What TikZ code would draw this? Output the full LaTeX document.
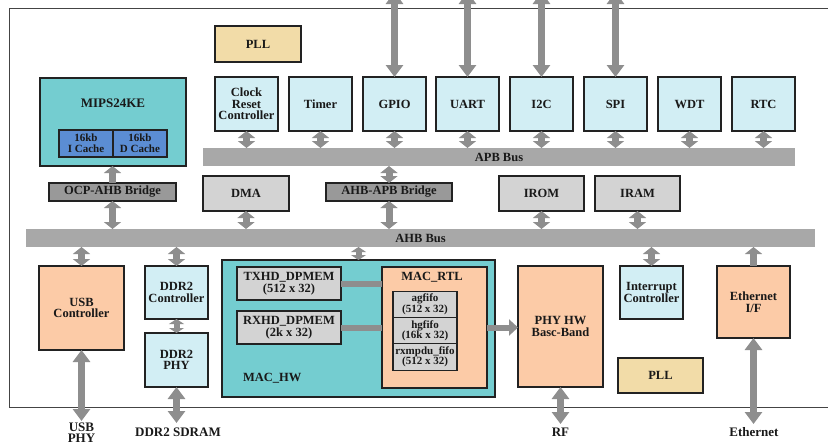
\documentclass[tikz,border=0pt]{standalone}
\usepackage{fontspec}
\setmainfont{Liberation Serif}
\usetikzlibrary{arrows.meta}
\definecolor{cteal}{HTML}{74CDD0}
\definecolor{cblue}{HTML}{5B8DD3}
\definecolor{clight}{HTML}{D2EEF4}
\definecolor{cpeach}{HTML}{FCCBA7}
\definecolor{ctan}{HTML}{F2DCA8}
\definecolor{cgray}{HTML}{D3D3D3}
\definecolor{cbridge}{HTML}{999999}
\definecolor{cbus}{HTML}{A8A8A8}
\definecolor{carrow}{HTML}{8E8E8E}
\definecolor{cborder}{HTML}{222222}
\definecolor{cframe}{HTML}{444444}
\tikzset{
  every node/.style={inner sep=0pt, outer sep=0pt, align=center},
  base/.style={font=\fontsize{12.5}{11.7}\selectfont\bfseries, text=black!90},
  box/.style={base, draw=cborder, line width=1.1pt},
  pbox/.style={box, fill=clight, line width=1.5pt, minimum width=63pt, minimum height=54pt},
  lbox/.style={box, fill=clight, minimum width=63pt, minimum height=53pt},
  tanbox/.style={box, fill=ctan},
  peachbox/.style={box, fill=cpeach},
  tealbox/.style={box, fill=cteal},
  gbox/.style={box, fill=cgray, minimum width=86pt, minimum height=35pt},
  membox/.style={box, fill=cgray, minimum width=104pt, minimum height=33pt, font=\fontsize{12.5}{12}\selectfont\bfseries},
  cachebox/.style={box, fill=cblue, minimum width=54pt, minimum height=27pt, font=\fontsize{11}{11}\selectfont\bfseries},
  fifobox/.style={box, fill=cgray, minimum width=64pt, minimum height=26.5pt, font=\fontsize{11}{10.5}\selectfont\bfseries},
  bridgebox/.style={box, fill=cbridge, minimum height=18pt},
  busbar/.style={base, fill=cbus, minimum height=18pt},
  lab/.style={font=\fontsize{13}{11.5}\selectfont\bfseries, text=black!90},
  la/.style={draw=carrow, line width=7pt, {Triangle[width=17pt,length=12pt]}-{Triangle[width=17pt,length=12pt]}},
  sda/.style={draw=carrow, line width=7pt, {Triangle[width=17pt,length=7pt]}-{Triangle[width=17pt,length=7pt]}},
  tda/.style={draw=carrow, line width=6pt, {Triangle[width=15pt,length=5pt]}-{Triangle[width=15pt,length=5pt]}},
  sua/.style={draw=carrow, line width=7pt, -{Triangle[width=17pt,length=7pt]}},
  conn/.style={draw=carrow, line width=6pt},
}
\begin{document}
\begin{tikzpicture}[x=1pt,y=-1pt]
\useasboundingbox (0,0) rectangle (828,445);
\fill[white] (0,0) rectangle (828,445);
\clip (0,0) rectangle (828,445);
% outer frame
\draw[cframe, line width=0.9pt] (830,8) -- (9,8) -- (9,407) -- (830,407);
\coordinate (top) at (0,-8);

% top row
\node[tanbox, minimum width=86pt, minimum height=36pt] (pll1) at (258,44) {PLL};
\node[pbox] (crc) at (246.5,104) {Clock\\Reset\\Controller};
\node[pbox] (timer) at (320.5,104) {Timer};
\node[pbox] (gpio) at (394.5,104) {GPIO};
\node[pbox] (uart) at (467.5,104) {UART};
\node[pbox] (i2c) at (541.5,104) {I2C};
\node[pbox] (spi) at (615.5,104) {SPI};
\node[pbox] (wdt) at (689.5,104) {WDT};
\node[pbox] (rtc) at (763.5,104) {RTC};
\node[busbar, minimum width=592pt] (apb) at (499,157) {APB Bus};

% MIPS
\node[tealbox, minimum width=146pt, minimum height=88pt] (mips) at (113,122) {};
\node[base, font=\fontsize{13}{12}\selectfont\bfseries] (mipsl) at (113,103) {MIPS24KE};
\node[cachebox] (icache) at (86,143.5) {16kb\\I Cache};
\node[cachebox] (dcache) at (140,143.5) {16kb\\D Cache};

% middle row
\node[bridgebox, minimum width=127pt] (ocp) at (112.5,192) {OCP-AHB Bridge};
\node[gbox] (dma) at (246,193.5) {DMA};
\node[bridgebox, minimum width=126pt] (ahbapb) at (389,192) {AHB-APB Bridge};
\node[gbox, minimum width=85pt] (irom) at (541.5,193.5) {IROM};
\node[gbox, minimum width=85pt] (iram) at (637.5,193.5) {IRAM};
\node[busbar, minimum width=789pt] (ahb) at (420.5,238) {AHB Bus};

% bottom row
\node[peachbox, minimum width=85pt, minimum height=84pt] (usb) at (81.5,308) {USB\\Controller};
\node[lbox] (ddrc) at (176.5,292.5) {DDR2\\Controller};
\node[lbox, minimum height=54pt] (ddrp) at (176.5,360) {DDR2\\PHY};
\node[tealbox, minimum width=273pt, minimum height=137pt] (machw) at (358.5,328.5) {};
\node[base, anchor=west] (machwl) at (243,378) {MAC\_HW};
\node[membox] (tx) at (289,283.5) {TXHD\_DPMEM\\(512 x 32)};
\node[membox] (rx) at (289,327.5) {RXHD\_DPMEM\\(2k x 32)};
\node[peachbox, minimum width=105pt, minimum height=121pt] (macrtl) at (434.5,327.5) {};
\node[base] (macrtll) at (432,277) {MAC\_RTL};
\node[fifobox] (ag) at (425,304.5) {agfifo\\(512 x 32)};
\node[fifobox] (hg) at (425,331) {hgfifo\\(16k x 32)};
\node[fifobox] (rxm) at (425,357) {rxmpdu\_fifo\\(512 x 32)};
\node[peachbox, minimum width=85pt, minimum height=121pt] (phy) at (560.5,326.5) {PHY HW\\Basc-Band};
\node[lbox] (intc) at (651.5,292.5) {Interrupt\\Controller};
\node[tanbox, minimum width=85pt, minimum height=35pt] (pll2) at (660.5,375.5) {PLL};
\node[peachbox, minimum width=73pt, minimum height=72pt] (eth) at (753.5,302) {Ethernet\\I/F};

% external end points and labels
\coordinate (usbend) at (81.5,421);
\coordinate (ddrend) at (176.5,423);
\coordinate (rfend) at (560.5,424);
\coordinate (ethend) at (753.5,424);
\node[lab] (usbphy) at (81.5,432.5) {USB\\PHY};
\node[lab] (sdram) at (178,432) {DDR2 SDRAM};
\node[lab] (rf) at (560.5,432) {RF};
\node[lab] (ethl) at (754,432) {Ethernet};

% arrows
\foreach \n in {gpio,uart,i2c,spi}
  \draw[la] (\n.north |- top) -- (\n.north);
\foreach \n in {crc,timer,gpio,uart,i2c,spi,wdt,rtc}
  \draw[sda] (\n.south) -- (\n.south |- apb.north);
\draw[sda] (ahbapb.north) -- (ahbapb.north |- apb.south);
\draw[sua] (ocp.north) -- (ocp.north |- mips.south);
\foreach \n in {ocp,dma,ahbapb,irom,iram}
  \draw[sda] (\n.south) -- (\n.south |- ahb.north);
\foreach \n in {usb,ddrc,intc}
  \draw[sda] (\n.north) -- (\n.north |- ahb.south);
\draw[tda] (machw.north) -- (machw.north |- ahb.south);
\draw[sua] (eth.north) -- (eth.north |- ahb.south);
\draw[tda] (ddrc.south) -- (ddrp.north);
\draw[la] (usb.south) -- (usbend);
\draw[la] (ddrp.south) -- (ddrend);
\draw[la] (phy.south) -- (rfend);
\draw[la] (eth.south) -- (ethend);
\draw[conn] (tx.east) -- (tx.east -| macrtl.west);
\draw[conn] (rx.east) -- (rx.east -| macrtl.west);
\draw[conn, -{Triangle[width=16pt,length=9pt]}] (macrtl.east) -- (macrtl.east -| phy.west);
\end{tikzpicture}
\end{document}
